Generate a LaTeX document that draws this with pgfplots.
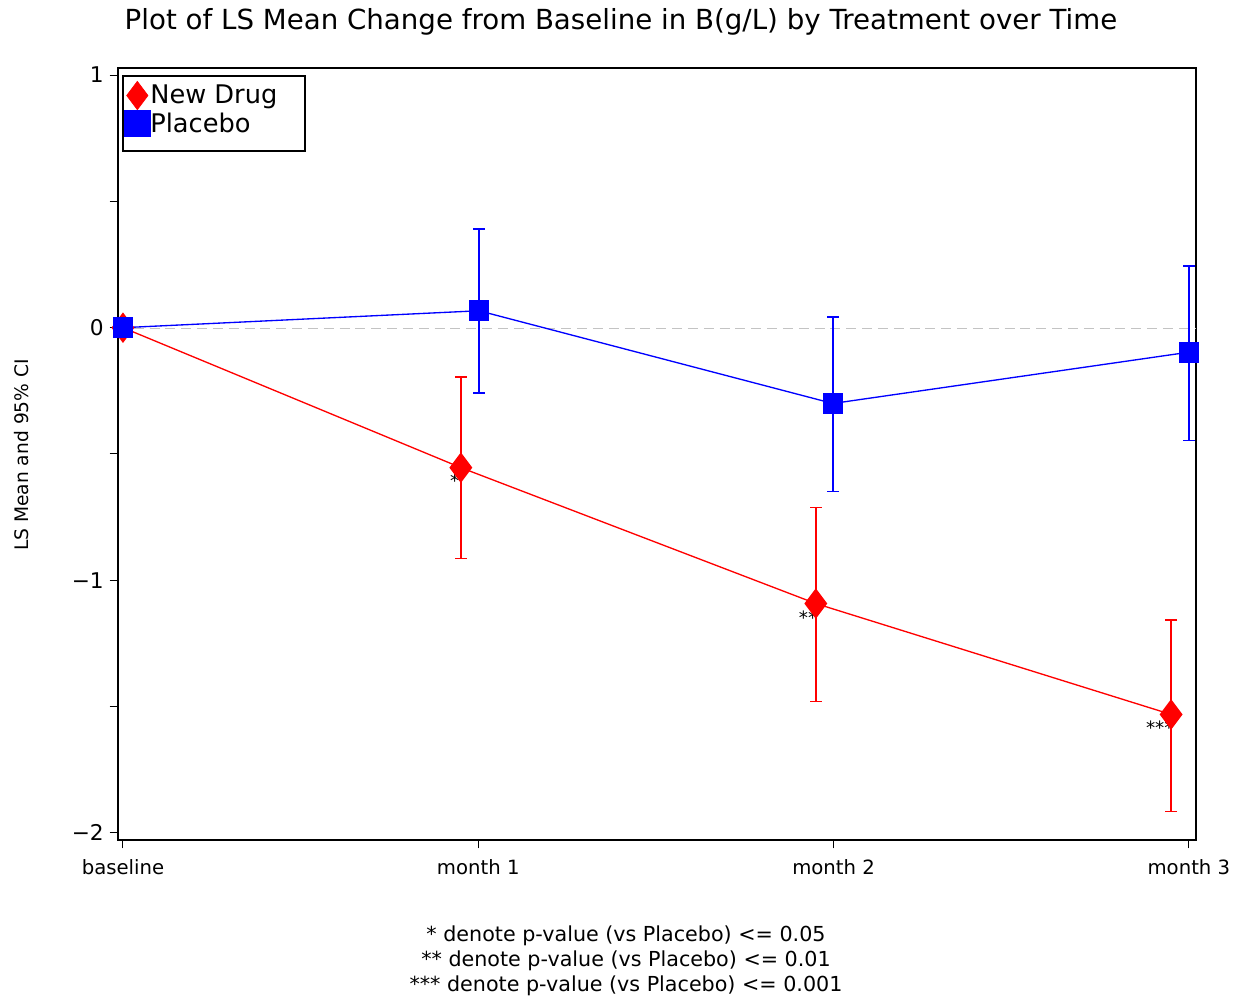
\documentclass[border=0pt]{standalone}
\usepackage{fontspec}
\setmainfont{DejaVu Sans}
\usepackage{pgfplots}
\pgfplotsset{compat=1.18}
\definecolor{zgray}{RGB}{195,195,195}
\pgfplotsset{
  rbar/.style={forget plot, color=red, line width=1pt, mark=-, mark size=3.6pt, mark options={solid, line width=1pt, color=red}},
  bbar/.style={forget plot, color=blue, line width=1pt, mark=-, mark size=3.6pt, mark options={solid, line width=1pt, color=blue}},
}
\begin{document}
\begin{tikzpicture}
\begin{axis}[
  width=646.8pt, height=463.2pt, scale only axis,
  xmin=-0.014, xmax=3.02, ymin=-2.028, ymax=1.028,
  xtick={0,1,2,3}, xticklabels={baseline,month 1,month 2,month 3},
  ytick={-2,-1,0,1}, yticklabels={−2,−1,0,1},
  minor ytick={-1.5,-0.5,0.5},
  tick align=outside, tick pos=left,
  major tick length=5pt, minor tick length=5pt,
  tick style={black, line width=0.6pt},
  axis line style={line width=1.2pt},
  xticklabel style={font=\fontsize{11.8}{13}\selectfont, yshift=-3pt},
  yticklabel style={font=\fontsize{13}{15}\selectfont},
  clip=false,
  legend cell align=left,
  legend style={at={(0.00557,0.98316)}, anchor=north west, draw=none, fill=none,
    inner sep=0pt, row sep=0.6pt, font=\fontsize{15.4}{18}\selectfont,
    nodes={inner sep=0pt}},
  legend image code/.code={\draw[#1] plot coordinates {(8pt,0pt)};},
]
\addplot[forget plot, zgray, dash pattern=on 6pt off 3.5pt, line width=0.9pt] coordinates {(-0.014,-0.004) (3.02,-0.004)};
% 95% CI bars
\addplot[rbar] coordinates {(0.951,-0.194) (0.951,-0.914)};
\addplot[rbar] coordinates {(1.950,-0.712) (1.950,-1.480)};
\addplot[rbar] coordinates {(2.950,-1.156) (2.950,-1.915)};
\addplot[bbar] coordinates {(1.002,0.391) (1.002,-0.258)};
\addplot[bbar] coordinates {(1.998,0.041) (1.998,-0.648)};
\addplot[bbar] coordinates {(3.000,0.243) (3.000,-0.447)};
% LS means
\addplot[forget plot, color=red, line width=0.8pt, mark=diamond*, mark size=8.5pt]
  coordinates {(0,0) (0.951,-0.554) (1.950,-1.092) (2.950,-1.531)};
\addplot[forget plot, color=blue, line width=0.8pt, mark=square*, mark size=5.8pt]
  coordinates {(0,0) (1.002,0.067) (1.998,-0.300) (3.000,-0.097)};
\addlegendimage{only marks, red, mark=diamond*, mark size=8.5pt}
\addlegendentry{New Drug}
\addlegendimage{only marks, blue, mark=square*, mark size=7.8pt}
\addlegendentry{Placebo}
\node[font=\fontsize{11}{12}\selectfont] at (axis cs:0.934,-0.605) {*};
\node[font=\fontsize{11}{12}\selectfont] at (axis cs:1.928,-1.148) {**};
\node[font=\fontsize{11}{12}\selectfont] at (axis cs:2.918,-1.583) {***};
\end{axis}
\begin{scope}[x=0.6pt,y=-0.6pt,xshift=-70.8pt,yshift=504pt]
\draw[black, line width=0.9pt] (123,76) rectangle (305,151);
\node[font=\fontsize{16.6}{19}\selectfont] at (621,22) {Plot of LS Mean Change from Baseline in B(g/L) by Treatment over Time};
\node[rotate=90, font=\fontsize{11.2}{13}\selectfont] at (22,455) {LS Mean and 95\% CI};
\node[align=center, font=\fontsize{12.4}{15}\selectfont] at (626,961) {* denote p-value (vs Placebo) <= 0.05\\** denote p-value (vs Placebo) <= 0.01\\*** denote p-value (vs Placebo) <= 0.001};
\pgfresetboundingbox
\path (0,0) rectangle (1245,1003);
\end{scope}
\end{tikzpicture}
\end{document}
